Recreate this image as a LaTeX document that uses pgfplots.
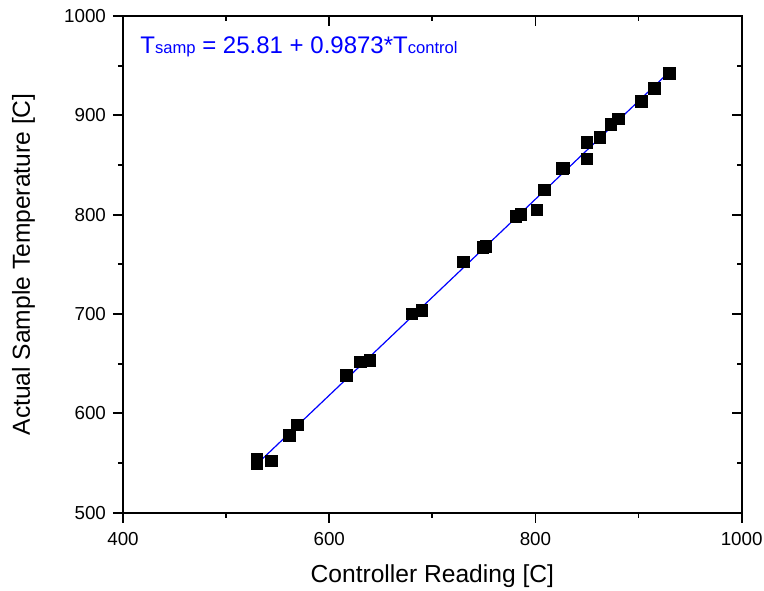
\documentclass[border=0pt]{standalone}
\usepackage{fontspec}
\setmainfont{Liberation Sans}
\usepackage{pgfplots}
\pgfplotsset{compat=1.18}
\begin{document}
\begin{tikzpicture}
\path[use as bounding box] (-61.5pt,-38.65pt) rectangle (320.5pt,256.35pt);
\begin{axis}[at={(0,0)}, anchor=south west, scale only axis,
  width=309.35pt, height=248.35pt,
  xmin=400, xmax=1000, ymin=500, ymax=1000,
  xtick={400,600,800,1000}, minor xtick={500,700,900},
  ytick={500,600,700,800,900,1000}, minor ytick={550,650,750,850,950},
  tick align=outside, xtick pos=bottom, ytick pos=left,
  major tick length=5pt, minor tick length=2.5pt,
  axis line style={line width=0.9pt},
  every tick/.style={line width=0.9pt, black},
  /pgf/number format/assume math mode=true,
  /pgf/number format/1000 sep={},
  ticklabel style={font=\fontsize{9.4}{11}\selectfont},
  xticklabel style={yshift=-1.5pt},
  xlabel={Controller Reading [C]},
  ylabel={Actual Sample Temperature [C]},
  label style={font=\fontsize{12.3}{14}\selectfont},
  xlabel style={at={(axis description cs:0.5,-0.128)}, anchor=center},
  ylabel style={at={(axis description cs:-0.161,0.5)}, anchor=center, rotate=0},
  clip=false,
]
\addplot[only marks, mark=square*, mark size=2.9pt, black] coordinates {
(529.7,553.5)(529.7,549.5)(544.2,552)(561.3,577.7)(569.4,588.5)(616.9,638.2)(630.5,651.7)(639.5,653.3)(680,700)(689.7,703.5)(730,752.4)(749.1,767)(752,768)(781.1,798.3)(785.7,800.3)(801.2,805)(808.6,825)(826.4,846.3)(827.7,847)(849.7,856)(849.7,872.8)(862.6,878)(873,891)(880.7,896.4)(903,914)(915.3,926.9)(929.8,942)
};
\addplot[blue, line width=0.6pt] coordinates {(530,549.08) (930,944.0)};
\node[anchor=base west, text=blue, font=\fontsize{12}{14}\selectfont, inner sep=0pt] at (rel axis cs:0.0275,0.9245)
  {T{\fontsize{8.3}{10}\selectfont samp} = 25.81 + 0.9873*T{\fontsize{8.3}{10}\selectfont control}};
\end{axis}
\begin{axis}[at={(0,0)}, anchor=south west, scale only axis,
  width=309.35pt, height=248.35pt,
  xmin=400, xmax=1000, ymin=500, ymax=1000,
  xtick={400,600,800,1000}, minor xtick={500,700,900},
  ytick={500,600,700,800,900,1000}, minor ytick={550,650,750,850,950},
  tick align=inside, xtick pos=top, ytick pos=right,
  major tick length=5pt, minor tick length=2.5pt,
  axis line style={line width=0.9pt},
  every tick/.style={line width=0.9pt, black},
  xticklabels={}, yticklabels={},
]
\end{axis}
\end{tikzpicture}
\end{document}
